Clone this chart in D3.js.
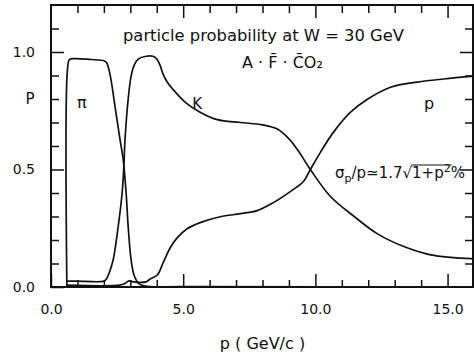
<!DOCTYPE html>
<html>
<head>
<meta charset="utf-8">
<script src="https://cdn.jsdelivr.net/npm/d3@7"></script>
<style>
  html, body { margin: 0; padding: 0; background: #fff; }
  svg { display: block; }
  text { font-family: "DejaVu Sans", "Liberation Sans", sans-serif; fill: #111; }
</style>
</head>
<body>
<svg id="chart" width="474" height="357"></svg>
<script>
// Particle identification probability vs momentum (GeV/c)
const pionP  = [0.6, 0.62, 0.7, 0.9, 1.5, 2.0, 2.1, 2.23, 2.42, 2.61, 2.73, 2.84, 2.92, 3.03, 3.14, 3.30, 3.56, 5.0, 16.0];
const pionV  = [0.0, 0.92, 0.968, 0.972, 0.968, 0.963, 0.955, 0.906, 0.769, 0.628, 0.543, 0.402, 0.256, 0.115, 0.051, 0.017, 0.004, 0.002, 0.001];

const kaonP  = [0.6, 1.0, 2.0, 2.1, 2.2, 2.35, 2.54, 2.69, 2.75, 2.80, 2.92, 3.03, 3.15, 3.30, 3.6, 3.86, 4.0, 4.12, 4.24, 4.4, 4.62, 5.08, 5.64, 6.29, 7.16, 8.0, 8.56, 9.02, 9.39, 9.81, 10.57, 11.48, 12.35, 13.37, 14.36, 16.0];
const kaonV  = [0.025, 0.025, 0.025, 0.035, 0.06, 0.115, 0.256, 0.40, 0.50, 0.628, 0.80, 0.897, 0.945, 0.970, 0.982, 0.982, 0.970, 0.945, 0.906, 0.871, 0.840, 0.786, 0.744, 0.712, 0.700, 0.690, 0.672, 0.628, 0.573, 0.50, 0.385, 0.299, 0.226, 0.171, 0.137, 0.120];

const protonP = [0.6, 2.6, 2.8, 2.95, 3.1, 3.3, 3.6, 3.75, 4.02, 4.24, 4.51, 4.77, 5.15, 5.64, 6.40, 7.16, 7.80, 8.41, 9.05, 9.55, 9.81, 10.19, 10.68, 11.33, 11.97, 12.84, 13.86, 14.85, 16.0];
const protonV = [0.008, 0.008, 0.015, 0.026, 0.022, 0.02, 0.022, 0.034, 0.051, 0.103, 0.167, 0.209, 0.248, 0.274, 0.299, 0.312, 0.325, 0.359, 0.406, 0.449, 0.50, 0.573, 0.658, 0.744, 0.799, 0.850, 0.872, 0.885, 0.897];

const xMajorTicks = [0, 5, 10, 15];
const xTickLabels = ["0.0", "5.0", "10.0", "15.0"];
const yMajorTicks = [0, 0.5, 1.0];
const yTickLabels = ["0.0", "0.5", "1.0"];

const svg = d3.select("#chart");
const plotLeft = 51, plotTop = 5, plotRight = 474, plotBottom = 287;

const x = d3.scaleLinear().domain([0, 16]).range([plotLeft, plotRight]);
const y = d3.scaleLinear().domain([0, 1.2]).range([plotBottom, plotTop]);

const minorX = d3.range(1, 16, 1).filter(v => !xMajorTicks.includes(v));
const minorY = d3.range(1, 12, 1).map(v => v / 10).filter(v => !yMajorTicks.some(m => Math.abs(m - v) < 1e-9));

function styleAxis(g) {
  g.select(".domain").remove();
  g.selectAll(".tick line").attr("stroke", "#111").attr("stroke-width", 1.5);
  g.selectAll(".tick text").style("font-size", "14px").attr("fill", "#111")
    .style("font-family", '"DejaVu Sans", sans-serif');
}

// bottom axis: minor + labelled majors, ticks pointing inward
svg.append("g").attr("transform", `translate(0,${plotBottom})`)
  .call(d3.axisBottom(x).tickValues(minorX).tickSize(-7).tickFormat(""))
  .call(styleAxis);
svg.append("g").attr("transform", `translate(0,${plotBottom})`)
  .call(d3.axisBottom(x).tickValues(xMajorTicks).tickSize(-13).tickPadding(17)
    .tickFormat((d, i) => xTickLabels[i]))
  .call(styleAxis);

// top axis
svg.append("g").attr("transform", `translate(0,${plotTop})`)
  .call(d3.axisTop(x).tickValues(minorX).tickSize(-8).tickFormat(""))
  .call(styleAxis);
svg.append("g").attr("transform", `translate(0,${plotTop})`)
  .call(d3.axisTop(x).tickValues(xMajorTicks.filter(v => v > 0)).tickSize(-13).tickFormat(""))
  .call(styleAxis);

// left axis
svg.append("g").attr("transform", `translate(${plotLeft},0)`)
  .call(d3.axisLeft(y).tickValues(minorY).tickSize(-8).tickFormat(""))
  .call(styleAxis);
svg.append("g").attr("transform", `translate(${plotLeft},0)`)
  .call(d3.axisLeft(y).tickValues(yMajorTicks).tickSize(-13).tickPadding(16)
    .tickFormat((d, i) => yTickLabels[i]))
  .call(styleAxis);

// right axis
svg.append("g").attr("transform", `translate(${plotRight},0)`)
  .call(d3.axisRight(y).tickValues(minorY).tickSize(-9).tickFormat(""))
  .call(styleAxis);
svg.append("g").attr("transform", `translate(${plotRight},0)`)
  .call(d3.axisRight(y).tickValues(yMajorTicks.filter(v => v > 0)).tickSize(-14).tickFormat(""))
  .call(styleAxis);

// frame
svg.append("rect")
  .attr("x", plotLeft).attr("y", plotTop)
  .attr("width", plotRight - plotLeft - 1).attr("height", plotBottom - plotTop)
  .attr("fill", "none").attr("stroke", "#111").attr("stroke-width", 2);

// curves
const line = d3.line().x(d => x(d[0])).y(d => y(d[1])).curve(d3.curveCatmullRom.alpha(0.5));
const series = [
  d3.zip(pionP, pionV),
  d3.zip(kaonP, kaonV),
  d3.zip(protonP, protonV)
];
svg.append("g")
  .selectAll("path").data(series).join("path")
  .attr("d", line)
  .attr("fill", "none")
  .attr("stroke", "#111")
  .attr("stroke-width", 1.7)
  .attr("stroke-linejoin", "round");

// y axis letter
svg.append("text").attr("x", 30).attr("y", y(0.8)).attr("dy", "0.36em")
  .attr("text-anchor", "middle").style("font-size", "15px").text("P");

// curve labels
svg.append("text").attr("x", x(1.17)).attr("y", 108)
  .attr("text-anchor", "middle").style("font-size", "16px").text("π");
svg.append("text").attr("x", x(5.53)).attr("y", 109)
  .attr("text-anchor", "middle").style("font-size", "15px").text("K");
svg.append("text").attr("x", x(14.3)).attr("y", 109)
  .attr("text-anchor", "middle").style("font-size", "16px").text("p");

// title lines
svg.append("text").attr("x", 123).attr("y", 41)
  .attr("textLength", 281).attr("lengthAdjust", "spacingAndGlyphs")
  .style("font-size", "16px").text("particle probability at W = 30 GeV");
svg.append("text").attr("x", 242).attr("y", 68)
  .style("font-size", "16px").text("A · F̄ · C̄O₂");

// resolution formula
const f = svg.append("text").attr("x", 335).attr("y", 178).style("font-size", "15px");
f.append("tspan").text("σ");
f.append("tspan").attr("dy", 4).style("font-size", "11px").text("p");
f.append("tspan").attr("dy", -4).text("/p≃1.7");
f.append("tspan").text("√");
f.append("tspan").text("1+p");
f.append("tspan").attr("dy", -6).style("font-size", "11px").text("2");
f.append("tspan").attr("dy", 6).text("%");
// bar over the radicand
{
  const node = f.node();
  const full = node.textContent;
  const start = full.indexOf("1+p");
  const sx = node.getStartPositionOfChar(start).x;
  const ex = node.getEndPositionOfChar(start + 3).x; // through the exponent
  svg.append("line").attr("x1", sx - 1).attr("x2", ex + 1)
    .attr("y1", 165).attr("y2", 165).attr("stroke", "#111").attr("stroke-width", 1.2);
}

// x axis title
svg.append("text").attr("x", (plotLeft + plotRight) / 2).attr("y", 349)
  .attr("text-anchor", "middle").style("font-size", "16px").text("p ( GeV/c )");
</script>
</body>
</html>
